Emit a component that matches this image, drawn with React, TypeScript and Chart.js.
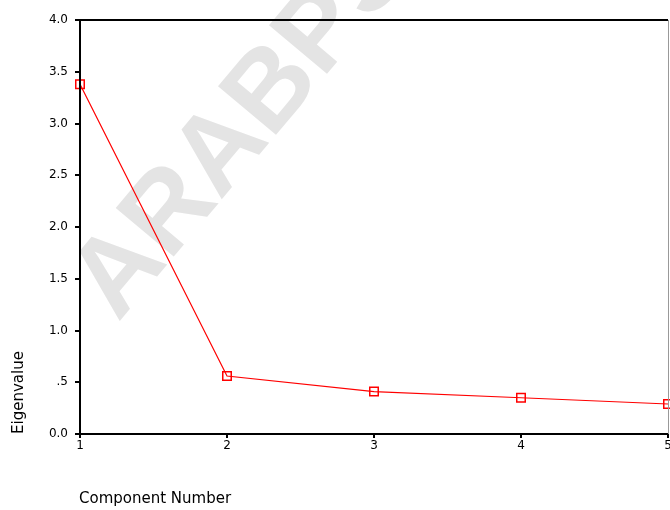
import React, { useEffect, useRef } from "react";
import { Chart, registerables } from "chart.js";

Chart.register(...registerables);

const components = ["1", "2", "3", "4", "5"];
const eigenvalues = [3.38, 0.56, 0.41, 0.35, 0.29];
const yTickValues = [0, 0.5, 1, 1.5, 2, 2.5, 3, 3.5, 4];
const yTickLabels = ["0.0", ".5", "1.0", "1.5", "2.0", "2.5", "3.0", "3.5", "4.0"];
const xTitle = "Component Number";
const yTitle = "Eigenvalue";
const watermark = "ARABPSYNET";

export default function App() {
  const ref = useRef<HTMLCanvasElement | null>(null);

  useEffect(() => {
    if (!ref.current) return;
    const decor = {
      id: "decor",
      beforeDraw(chart: any) {
        const ctx = chart.ctx;
        ctx.save();
        ctx.translate(118, 323);
        ctx.rotate((-50 * Math.PI) / 180);
        ctx.fillStyle = "#e4e4e4";
        ctx.font = "bold 110px 'Liberation Sans', Arial, sans-serif";
        ctx.textBaseline = "alphabetic";
        ctx.textAlign = "left";
        ctx.fillText(watermark, 0, 0);
        ctx.restore();
      },
      afterDraw(chart: any) {
        const ctx = chart.ctx;
        const a = chart.chartArea;
        ctx.save();
        ctx.lineWidth = 2;
        ctx.strokeStyle = "#000";
        ctx.beginPath();
        ctx.moveTo(a.left, a.top);
        ctx.lineTo(a.right, a.top);
        ctx.moveTo(a.left, a.top - 1);
        ctx.lineTo(a.left, a.bottom);
        ctx.lineTo(a.right + 1, a.bottom);
        ctx.stroke();
        ctx.lineWidth = 1;
        ctx.strokeStyle = "#999";
        ctx.beginPath();
        ctx.moveTo(a.right + 0.5, a.top);
        ctx.lineTo(a.right + 0.5, a.bottom);
        ctx.stroke();
        ctx.fillStyle = "#000";
        ctx.font = "15px 'DejaVu Sans', sans-serif";
        ctx.textAlign = "left";
        ctx.textBaseline = "middle";
        ctx.fillText(xTitle, 79, 499);
        ctx.translate(19, 434);
        ctx.rotate(-Math.PI / 2);
        ctx.fillText(yTitle, 0, 0);
        ctx.restore();
      },
    };

    const chart = new Chart(ref.current, {
      type: "line",
      data: {
        labels: components,
        datasets: [
          {
            data: eigenvalues,
            borderColor: "#ff0000",
            borderWidth: 1.2,
            pointStyle: "rect",
            pointRadius: 6,
            pointBorderColor: "#ff0000",
            pointBackgroundColor: "rgba(0,0,0,0)",
            pointBorderWidth: 1.5,
            tension: 0,
            fill: false,
            clip: false,
          },
        ],
      },
      options: {
        responsive: false,
        animation: false,
        layout: { autoPadding: false, padding: { top: 20, right: 2, left: 0, bottom: 0 } },
        plugins: { legend: { display: false }, tooltip: { enabled: false } },
        scales: {
          x: {
            type: "category",
            offset: false,
            border: { display: false },
            grid: {
              drawOnChartArea: false,
              drawTicks: true,
              tickLength: 4,
              color: "#000",
              tickColor: "#000",
              lineWidth: 2,
            },
            ticks: {
              color: "#000",
              padding: 1,
              maxRotation: 0,
              autoSkip: false,
              font: { family: "'DejaVu Sans', sans-serif", size: 12 },
            },
            afterFit(scale: any) {
              scale.height = 76;
              scale.paddingLeft = 0;
              scale.paddingRight = 0;
            },
          },
          y: {
            type: "linear",
            min: 0,
            max: 4,
            afterBuildTicks(scale: any) {
              scale.ticks = yTickValues.map((v) => ({ value: v }));
            },
            border: { display: false },
            grid: {
              drawOnChartArea: false,
              drawTicks: true,
              tickLength: 5,
              color: "#000",
              tickColor: "#000",
              lineWidth: 2,
            },
            ticks: {
              color: "#000",
              padding: 7,
              font: { family: "'DejaVu Sans', sans-serif", size: 12 },
              callback: (v: any) => {
                const i = yTickValues.indexOf(Number(v));
                return i >= 0 ? yTickLabels[i] : "";
              },
            },
            afterFit(scale: any) {
              scale.width = 80;
              scale.paddingTop = 0;
              scale.paddingBottom = 0;
            },
          },
        },
      },
      plugins: [decor],
    });
    return () => chart.destroy();
  }, []);

  return (
    <div style={{ position: "fixed", left: 0, top: 0, width: 670, height: 510, background: "#fff" }}>
      <canvas ref={ref} width={670} height={510} style={{ display: "block", width: 670, height: 510 }} />
    </div>
  );
}
